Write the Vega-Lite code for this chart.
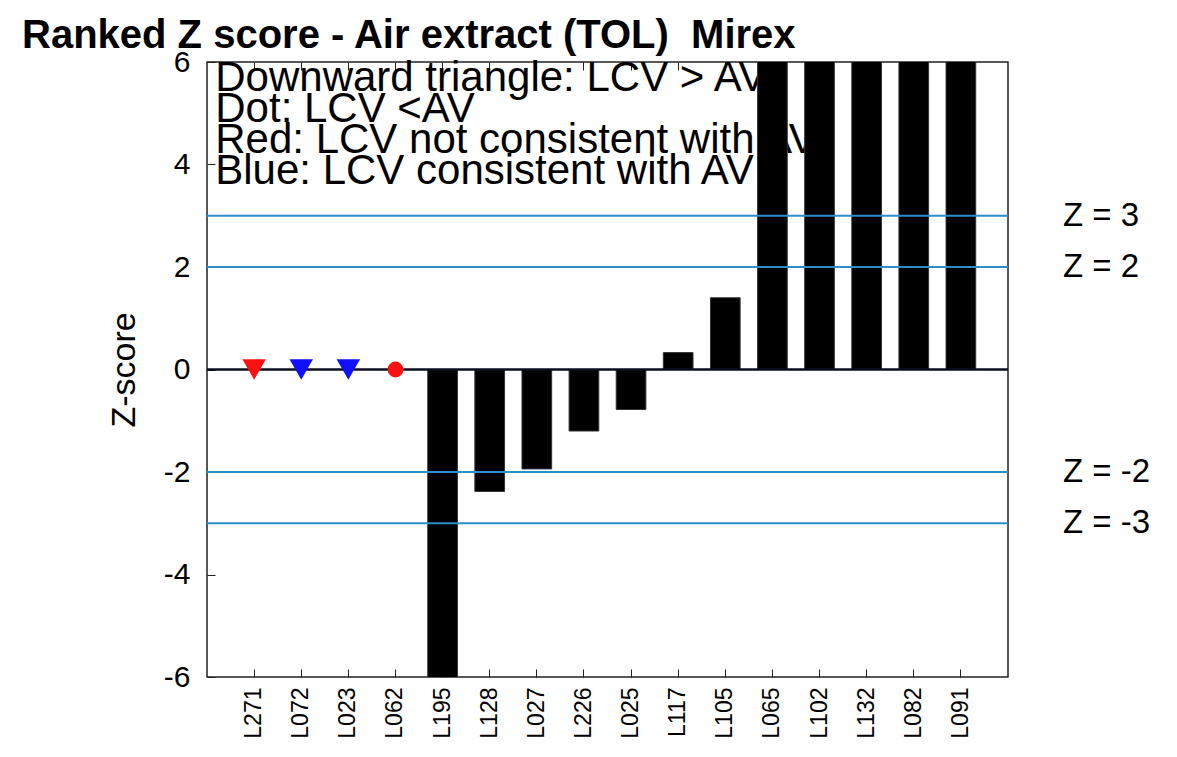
{
  "$schema": "https://vega.github.io/schema/vega-lite/v6.json",
  "width": 801,
  "height": 615,
  "autosize": "none",
  "padding": {"left": 207, "top": 62, "right": 169, "bottom": 80},
  "background": "white",
  "config": {
    "font": "Liberation Sans",
    "view": {"stroke": "#222222", "strokeWidth": 1.5}
  },
  "title": {
    "text": "Ranked Z score - Air extract (TOL)\u00a0 Mirex",
    "anchor": "start",
    "frame": "group",
    "dx": -185,
    "fontSize": 40,
    "fontWeight": "bold",
    "color": "black",
    "offset": -9
  },
  "resolve": {"axis": {"x": "independent"}},
  "datasets": {
    "scores": [
      {"lab": "L271", "z": 0, "kind": "marker", "relation": "LCV > AV", "consistency": "not consistent"},
      {"lab": "L072", "z": 0, "kind": "marker", "relation": "LCV > AV", "consistency": "consistent"},
      {"lab": "L023", "z": 0, "kind": "marker", "relation": "LCV > AV", "consistency": "consistent"},
      {"lab": "L062", "z": 0, "kind": "marker", "relation": "LCV < AV", "consistency": "not consistent"},
      {"lab": "L195", "z": -7.5, "kind": "bar"},
      {"lab": "L128", "z": -2.38, "kind": "bar"},
      {"lab": "L027", "z": -1.94, "kind": "bar"},
      {"lab": "L226", "z": -1.2, "kind": "bar"},
      {"lab": "L025", "z": -0.78, "kind": "bar"},
      {"lab": "L117", "z": 0.33, "kind": "bar"},
      {"lab": "L105", "z": 1.4, "kind": "bar"},
      {"lab": "L065", "z": 7.2, "kind": "bar"},
      {"lab": "L102", "z": 8.5, "kind": "bar"},
      {"lab": "L132", "z": 10.1, "kind": "bar"},
      {"lab": "L082", "z": 12.4, "kind": "bar"},
      {"lab": "L091", "z": 15.8, "kind": "bar"}
    ],
    "limits": [
      {"z": 3, "label": "Z = 3"},
      {"z": 2, "label": "Z = 2"},
      {"z": -2, "label": "Z = -2"},
      {"z": -3, "label": "Z = -3"}
    ]
  },
  "layer": [
    {
      "data": {"name": "scores"},
      "transform": [{"filter": "datum.lab == 'L271'"}],
      "mark": {
        "type": "text",
        "text": ["Downward triangle: LCV > AV", "Dot: LCV <AV", "Red: LCV not consistent with AV", "Blue: LCV consistent with AV"],
        "align": "left",
        "baseline": "top",
        "fontSize": 42,
        "lineHeight": 31,
        "color": "black",
        "dx": -24,
        "dy": -4
      },
      "encoding": {
        "x": {"field": "lab", "type": "nominal", "bandPosition": 0, "axis": null,
              "sort": ["L271", "L072", "L023", "L062", "L195", "L128", "L027", "L226", "L025", "L117", "L105", "L065", "L102", "L132", "L082", "L091"]},
        "y": {"datum": 6, "type": "quantitative"}
      }
    },
    {
      "data": {"name": "scores"},
      "transform": [{"filter": "datum.kind == 'bar'"}],
      "mark": {"type": "bar", "color": "black", "stroke": "#333333", "strokeWidth": 1, "clip": true},
      "encoding": {
        "x": {
          "field": "lab",
          "type": "nominal",
          "sort": ["L271", "L072", "L023", "L062", "L195", "L128", "L027", "L226", "L025", "L117", "L105", "L065", "L102", "L132", "L082", "L091"],
          "scale": {"type": "band", "paddingInner": 0.37, "paddingOuter": 0.685},
          "axis": {
            "title": null,
            "labelAngle": 270,
            "labelFontSize": 23,
            "labelColor": "black",
            "labelPadding": 18,
            "tickSize": -8,
            "tickColor": "#222222",
            "domain": false,
            "grid": false
          }
        },
        "y": {
          "field": "z",
          "type": "quantitative",
          "scale": {"domain": [-6, 6], "nice": false, "zero": false},
          "axis": {
            "title": "Z-score",
            "titleFontSize": 34,
            "titleFontWeight": "normal",
            "titleColor": "black",
            "titlePadding": 22,
            "values": [-6, -4, -2, 0, 2, 4, 6],
            "labelExpr": "replace(datum.label, '\u2212', '-')",
            "labelFontSize": 30,
            "labelColor": "black",
            "labelPadding": 25,
            "tickSize": -8,
            "tickColor": "#222222",
            "domain": false,
            "grid": false
          }
        }
      }
    },
    {
      "data": {"name": "limits"},
      "mark": {"type": "rule", "color": "#2e8cc8", "strokeWidth": 2},
      "encoding": {"y": {"field": "z", "type": "quantitative"}}
    },
    {
      "data": {"values": [{"z": 0}]},
      "mark": {"type": "rule", "color": "#0a0f1e", "strokeWidth": 2.5},
      "encoding": {"y": {"field": "z", "type": "quantitative"}}
    },
    {
      "data": {"name": "scores"},
      "transform": [{"filter": "datum.kind == 'marker'"}],
      "mark": {"type": "point", "filled": true, "opacity": 1},
      "encoding": {
        "x": {"field": "lab", "type": "nominal",
              "sort": ["L271", "L072", "L023", "L062", "L195", "L128", "L027", "L226", "L025", "L117", "L105", "L065", "L102", "L132", "L082", "L091"],
              "axis": {"orient": "top", "labels": false, "title": null, "tickSize": -8, "tickColor": "#222222", "domain": false, "grid": false}},
        "y": {"field": "z", "type": "quantitative"},
        "shape": {"field": "relation", "type": "nominal", "scale": {"domain": ["LCV > AV", "LCV < AV"], "range": ["triangle-down", "circle"]}, "legend": null},
        "size": {"field": "relation", "type": "nominal", "scale": {"domain": ["LCV > AV", "LCV < AV"], "range": [550, 250]}, "legend": null},
        "color": {"field": "consistency", "type": "nominal", "scale": {"domain": ["not consistent", "consistent"], "range": ["#ff1010", "#1010ff"]}, "legend": null}
      }
    },
    {
      "data": {"name": "limits"},
      "mark": {"type": "text", "align": "left", "baseline": "middle", "fontSize": 33, "color": "black", "dx": 102, "clip": false},
      "encoding": {
        "x": {"datum": "L091", "type": "nominal", "axis": null},
        "y": {"field": "z", "type": "quantitative"},
        "text": {"field": "label", "type": "nominal"}
      }
    }
  ]
}
